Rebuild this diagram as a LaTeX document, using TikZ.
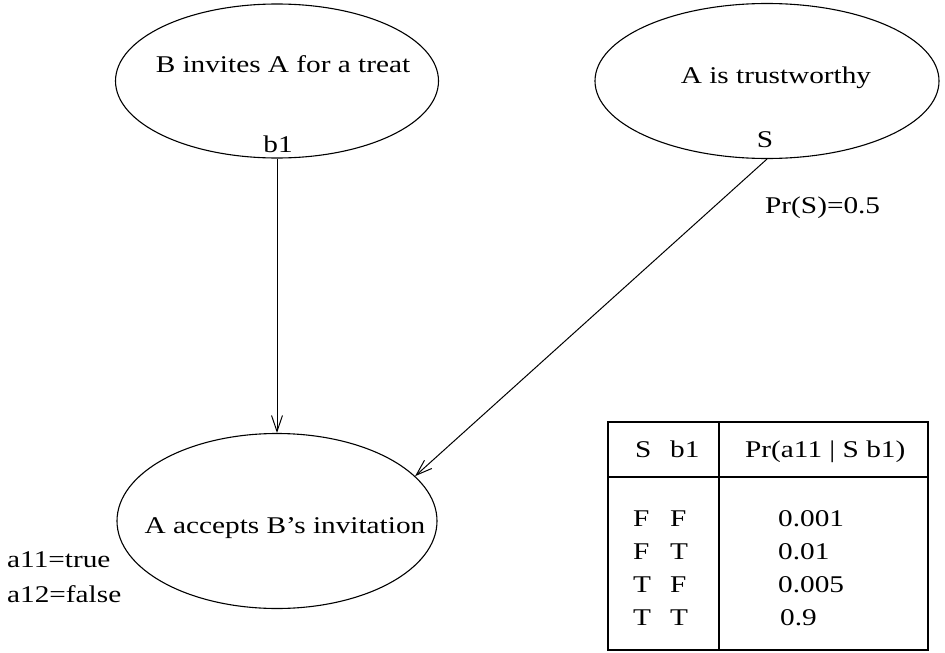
\documentclass[tikz,border=0pt]{standalone}
\usepackage{fontspec}
\setmainfont{Liberation Serif}[FakeStretch=1.22]
\usetikzlibrary{shapes.geometric,arrows.meta}
\begin{document}
\begin{tikzpicture}[x=1pt,y=-1pt,
  every node/.style={font=\fontsize{24}{28}\selectfont, inner sep=0pt},
  var/.style={draw, ellipse, line width=1.1pt, inner sep=0pt},
  lbl/.style={anchor=base},
  lblw/.style={anchor=base west},
  link/.style={line width=1pt, -{Straight Barb[length=16pt,width=11pt,line width=1pt]}},
  grid/.style={line width=1.1pt},
]
\useasboundingbox (0,0) rectangle (945,653);

% variables of the network
\node[var, minimum width=323pt, minimum height=154pt] (treat) at (277,81) {};
\node[var, minimum width=344pt, minimum height=155pt] (trust) at (767,81) {};
\node[var, minimum width=320pt, minimum height=175pt] (accept) at (277,521) {};

\node[lbl] (treatT) at (283,72) {B invites A for a treat};
\node[lbl] (treatV) at (278,152) {b1};
\node[lbl] (trustT) at (776,83) {A is trustworthy};
\node[lbl] (trustV) at (765,147) {S};
\node[lbl] (acceptT) at (285,533) {A accepts B’s invitation};

% prior and states
\node[lblw] (prior) at (765,213) {Pr(S)=0.5};
\node[lblw] (st1) at (7,567) {a11=true};
\node[lblw] (st2) at (7,602) {a12=false};

% dependencies
\draw[link] (treat.south) -- (accept.north);
\draw[link] (trust.south) -- (accept.18);

% conditional probability table
\draw[grid] (608,422) rectangle (928,650);
\draw[grid] (608,477) -- (928,477);
\draw[grid] (719,422) -- (719,650);

\node[lblw] (hS) at (635,457) {S};
\node[lblw] (hB) at (670,457) {b1};
\node[lblw] (hP) at (745,457) {Pr(a11 | S b1)};

\node[lblw] (r1a) at (633,526) {F};
\node[lblw] (r1b) at (670,526) {F};
\node[lblw] (r1p) at (778,526) {0.001};
\node[lblw] (r2a) at (633,559) {F};
\node[lblw] (r2b) at (670,559) {T};
\node[lblw] (r2p) at (778,559) {0.01};
\node[lblw] (r3a) at (633,592) {T};
\node[lblw] (r3b) at (670,592) {F};
\node[lblw] (r3p) at (778,592) {0.005};
\node[lblw] (r4a) at (633,625) {T};
\node[lblw] (r4b) at (670,625) {T};
\node[lblw] (r4p) at (780,625) {0.9};
\end{tikzpicture}
\end{document}
